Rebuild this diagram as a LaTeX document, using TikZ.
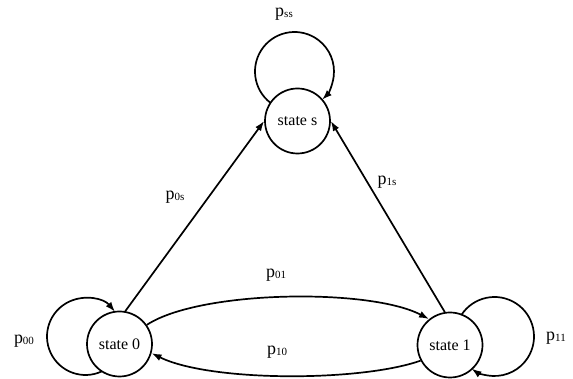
\documentclass[tikz,border=0pt]{standalone}
\usepackage{fontspec}
\setmainfont{Liberation Serif}
\usetikzlibrary{arrows.meta,calc}
\newcommand{\plab}[1]{{\fontsize{18}{18}\selectfont p\raisebox{-1.5pt}{\fontsize{11}{11}\selectfont #1}}}
\tikzset{
  statebox/.style={circle, draw, line width=1.7pt, minimum size=65pt, inner sep=0pt, font=\fontsize{16}{16}\selectfont},
  edge/.style={line width=1.7pt, -{Latex[length=10pt,width=7pt]}},
  lbl/.style={inner sep=0pt}
}
\begin{document}
\begin{tikzpicture}[x=1pt,y=1pt]
\useasboundingbox (0,0) rectangle (573,379);
\node[statebox] (ss) at (297.5,258) {state s};
\node[statebox] (s0) at (119.5,35) {state 0};
\node[statebox] (s1) at (450,34) {state 1};
% self loops
\draw[edge] ($(294.5,307.5)+(232.6:39.5)$) coordinate (ls) arc[start angle=232.6, end angle=-45.7, radius=39.5];
\draw[edge] ($(85.5,42.5)+(295.2:38.5)$) coordinate (l0) arc[start angle=295.2, end angle=39.9, radius=38.5];
\draw[edge] ($(494.5,42.5)+(147.2:39.5)$) coordinate (l1) arc[start angle=147.2, end angle=-125.5, radius=39.5];
% straight edges
\draw[edge] (s0.80) -- (ss.180);
\draw[edge] (s1.99) -- (ss.0);
% curved edges
\draw[edge] (s0.35) .. controls (200,89) and (370,91) .. (s1.129);
\draw[edge] (s1.208) .. controls (360,-3) and (210,-3) .. (s0.344);
% labels
\node[lbl] (pss) at (284,365) {\plab{ss}};
\node[lbl] (p0s) at (175,182) {\plab{0s}};
\node[lbl] (p1s) at (387,197) {\plab{1s}};
\node[lbl] (p01) at (276,104) {\plab{01}};
\node[lbl] (p10) at (277,27) {\plab{10}};
\node[lbl] (p00) at (24,38) {\plab{00}};
\node[lbl] (p11) at (556,41) {\plab{11}};
\end{tikzpicture}
\end{document}
